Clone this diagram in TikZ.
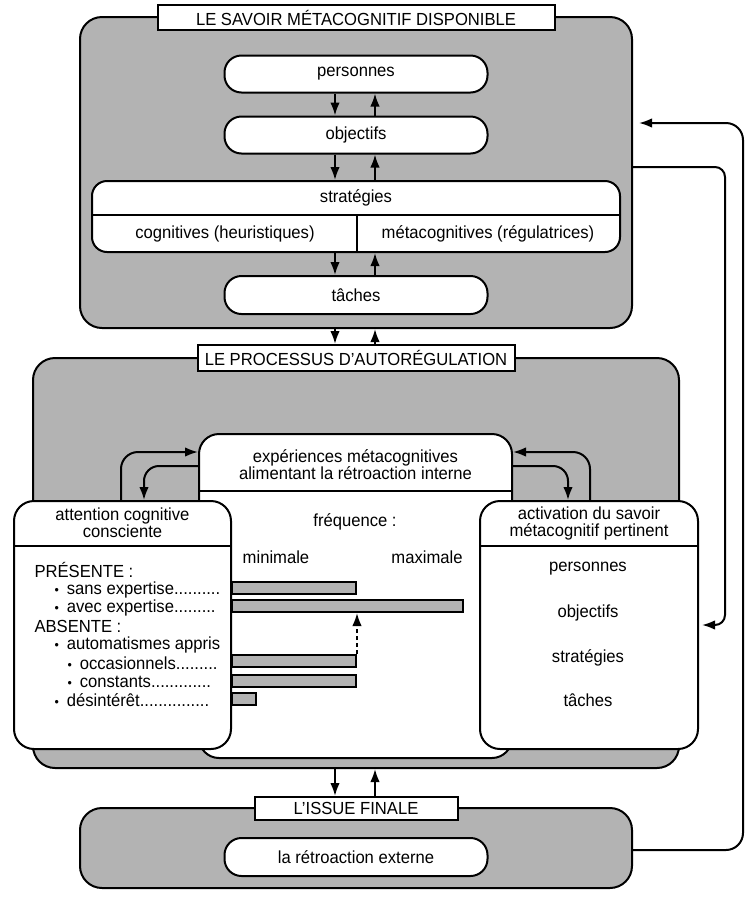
\documentclass[tikz,border=0pt]{standalone}
\usepackage{fontspec}
\setmainfont[FakeStretch=0.95]{Liberation Sans}
\usetikzlibrary{arrows.meta,calc}

\definecolor{boxgray}{RGB}{179,179,179}

\tikzset{
  >={Latex[length=13pt,width=9.5pt]},
  every node/.style={font=\fontsize{17.5}{17}\selectfont},
  graybox/.style={draw, line width=2pt, fill=boxgray, rounded corners=22pt, inner sep=0pt},
  titlebox/.style={draw, line width=2pt, fill=white, inner sep=0pt},
  pill/.style={draw, line width=2pt, fill=white, rounded corners=17pt, minimum width=263pt, minimum height=37pt, inner sep=0pt},
  panel/.style={draw, line width=2pt, fill=white, rounded corners=20pt, inner sep=0pt},
  bar/.style={draw, line width=2pt, fill=boxgray, minimum height=12pt, inner sep=0pt, anchor=west},
  link/.style={->, line width=2pt},
  feedback/.style={->, line width=2pt, rounded corners=15pt},
}

\newcommand{\itm}{{\fontsize{13}{13}\selectfont•}\hspace{8pt}}

\begin{document}
\begin{tikzpicture}[x=1pt, y=-1pt]
\useasboundingbox (0,0) rectangle (750,898);

%% le savoir metacognitif
\node[graybox, minimum width=552pt, minimum height=311pt] (savoir) at (356,172.5) {};
\node[titlebox, minimum width=397pt, minimum height=25pt] (savtitle) at (356,17.5) {LE SAVOIR MÉTACOGNITIF DISPONIBLE};

\node[pill] (pers) at (356,74) {personnes};
\node[pill] (obj) at (356,135) {objectifs};

% strategies, split in two
\node[panel, minimum width=528pt, minimum height=71pt, rounded corners=15pt] (strat) at (356,216.5) {};
\coordinate (sdiv) at (0,215);
\draw[line width=2pt] (strat.west |- sdiv) -- (strat.east |- sdiv);
\draw[line width=2pt] ([xshift=1pt]strat.south |- sdiv) -- ([xshift=1pt]strat.south);
\node (stratlbl) at (356,198) {stratégies};
\node (cogn) at (225,234) {cognitives (heuristiques)};
\node (meta) at (488,234) {métacognitives (régulatrices)};

\node[pill, minimum height=38pt] (tache) at (356,295) {tâches};

\draw[link] ([xshift=-21pt]pers.south) -- ([xshift=-21pt]obj.north);
\draw[link] ([xshift=19pt]obj.north) -- ([xshift=19pt]pers.south);
\draw[link] ([xshift=-21pt]obj.south) -- ([xshift=-21pt]strat.north);
\draw[link] ([xshift=19pt]strat.north) -- ([xshift=19pt]obj.south);
\draw[link] ([xshift=-21pt]strat.south) -- ([xshift=-21pt]tache.north);
\draw[link] ([xshift=19pt]tache.north) -- ([xshift=19pt]strat.south);

%% le processus d'autoregulation
\node[graybox, minimum width=646pt, minimum height=410pt] (proc) at (356,563) {};
\node[titlebox, minimum width=317pt, minimum height=26pt] (proctitle) at (356,358) {LE PROCESSUS D’AUTORÉGULATION};

\draw[link] ([xshift=-21pt]savoir.south) -- ([xshift=-21pt]proctitle.north);
\draw[link] ([xshift=19pt]proctitle.north) -- ([xshift=19pt]savoir.south);

% experiences (middle panel)
\node[panel, minimum width=313pt, minimum height=324pt] (exper) at (355.5,596) {};
\coordinate (ediv) at (0,491);
\draw[line width=2pt] (exper.west |- ediv) -- (exper.east |- ediv);
\node[align=center] (experlbl) at (355.5,465) {expériences métacognitives\\alimentant la rétroaction interne};
\node (freq) at (355,522) {fréquence :};
\node (minl) at (276,557) {minimale};
\node (maxl) at (427,557) {maximale};

% attention (left panel)
\node[panel, minimum width=217pt, minimum height=248pt] (attn) at (122.5,625) {};
\coordinate (adiv) at (0,546);
\draw[line width=2pt] (attn.west |- adiv) -- (attn.east |- adiv);
\node[align=center] (attnlbl) at (122.5,523) {attention cognitive\\consciente};
\node[anchor=west] (pres) at (31,570) {PRÉSENTE :};
\node[anchor=west] (sans) at (51,590) {\itm sans expertise..........};
\node[anchor=west] (avec) at (51,608) {\itm avec expertise.........};
\node[anchor=west] (abs) at (31,626) {ABSENTE :};
\node[anchor=west] (auto) at (51,645) {\itm automatismes appris};
\node[anchor=west] (occ) at (64,663) {\itm occasionnels.........};
\node[anchor=west] (cons) at (64,682) {\itm constants.............};
\node[anchor=west] (des) at (51,700) {\itm désintérêt...............};

% activation (right panel)
\node[panel, minimum width=218pt, minimum height=248pt] (activ) at (589,625) {};
\draw[line width=2pt] (activ.west |- adiv) -- (activ.east |- adiv);
\node[align=center] (activlbl) at (589,523) {activation du savoir\\métacognitif pertinent};
\node (apers) at (588,569) {personnes};
\node (aobj) at (588,613) {objectifs};
\node (astrat) at (588,658) {stratégies};
\node (atache) at (588,700) {tâches};

% frequency bars
\node[bar, minimum width=124pt] (bsans) at (231,588) {};
\node[bar, minimum width=231pt] (bavec) at (231,606) {};
\node[bar, minimum width=124pt] (bocc) at (231,661) {};
\node[bar, minimum width=124pt] (bcons) at (231,681) {};
\node[bar, minimum width=24pt] (bdes) at (231,698.5) {};
\draw[link, dash pattern=on 4pt off 3pt] (bocc.north east) -- (bocc.north east |- bavec.south);

% internal feedback loops
\draw[feedback, rounded corners=17pt] ([xshift=-1.5pt]attn.north) |- ([yshift=-19pt]exper.north west);
\draw[feedback] ([yshift=-33pt]exper.north west) -| ([xshift=21.5pt]attn.north);
\draw[feedback, rounded corners=17pt] ([xshift=1pt]activ.north) |- ([yshift=-19pt]exper.north east);
\draw[feedback] ([yshift=-33pt]exper.north east) -| ([xshift=-21pt]activ.north);

%% l'issue finale
\node[graybox, minimum width=552pt, minimum height=80pt] (issue) at (356,848) {};
\node[titlebox, minimum width=203pt, minimum height=23pt] (issuetitle) at (356,808.5) {L’ISSUE FINALE};
\node[pill, minimum height=38pt] (retro) at (356,857) {la rétroaction externe};

\draw[link] ([xshift=-21pt]proc.south) -- ([xshift=-21pt]issuetitle.north);
\draw[link] ([xshift=19pt]issuetitle.north) -- ([xshift=19pt]proc.south);

% external feedback
\coordinate (fbtop) at (743,123);
\coordinate (fbin) at (639,123);
\draw[feedback, rounded corners=17pt] ([yshift=-2pt]issue.east) -| (fbtop) -- (fbin);
\draw[feedback, rounded corners=10pt] ([yshift=5.5pt]savoir.east) -| ([xshift=26pt]activ.east) -- ([xshift=3pt]activ.east);

\end{tikzpicture}
\end{document}
